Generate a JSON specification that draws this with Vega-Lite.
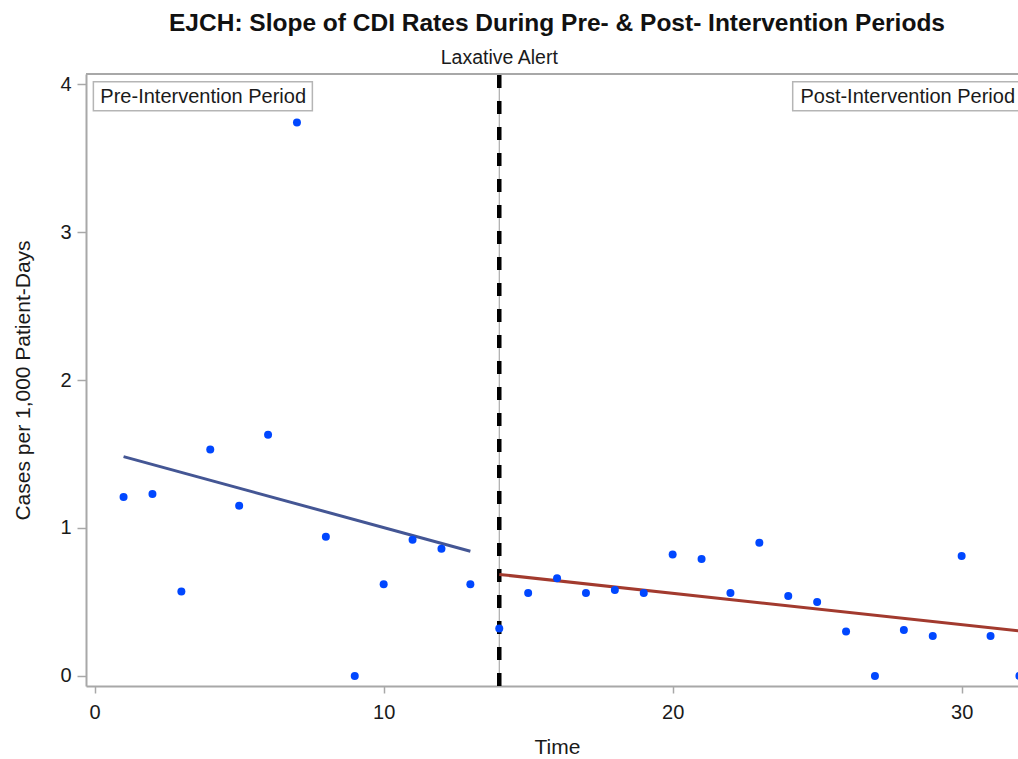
{
  "$schema": "https://vega.github.io/schema/vega-lite/v6.json",
  "autosize": {"type": "none"},
  "padding": {"left": 86, "top": 74, "right": 0, "bottom": 73},
  "width": 932,
  "height": 612,
  "background": "white",
  "config": {
    "view": {"stroke": null},
    "font": "Liberation Sans, Arial, sans-serif",
    "axis": {"grid": false, "domainColor": "#A8A8A8", "domainWidth": 2, "tickColor": "#A8A8A8", "tickWidth": 1.5, "labelColor": "#1a1a1a", "titleColor": "#1a1a1a", "labelFont": "Liberation Sans", "titleFont": "Liberation Sans", "titleFontWeight": "normal"}
  },
  "title": {"text": "EJCH: Slope of CDI Rates During Pre- & Post- Intervention Periods", "font": "Liberation Sans", "fontSize": 24.5, "fontWeight": "bold", "color": "#111", "anchor": "middle", "frame": "group", "baseline": "alphabetic", "offset": -7, "dx": 5},
  "datasets": {
    "obs": [
      {"time": 1, "rate": 1.21}, {"time": 2, "rate": 1.23}, {"time": 3, "rate": 0.57}, {"time": 4, "rate": 1.53},
      {"time": 5, "rate": 1.15}, {"time": 6, "rate": 1.63}, {"time": 7, "rate": 3.74}, {"time": 8, "rate": 0.94},
      {"time": 9, "rate": 0.0}, {"time": 10, "rate": 0.62}, {"time": 11, "rate": 0.92}, {"time": 12, "rate": 0.86},
      {"time": 13, "rate": 0.62}, {"time": 14, "rate": 0.32}, {"time": 15, "rate": 0.56}, {"time": 16, "rate": 0.66},
      {"time": 17, "rate": 0.56}, {"time": 18, "rate": 0.58}, {"time": 19, "rate": 0.56}, {"time": 20, "rate": 0.82},
      {"time": 21, "rate": 0.79}, {"time": 22, "rate": 0.56}, {"time": 23, "rate": 0.9}, {"time": 24, "rate": 0.54},
      {"time": 25, "rate": 0.5}, {"time": 26, "rate": 0.3}, {"time": 27, "rate": 0.0}, {"time": 28, "rate": 0.31},
      {"time": 29, "rate": 0.27}, {"time": 30, "rate": 0.81}, {"time": 31, "rate": 0.27}, {"time": 32, "rate": 0.0}
    ],
    "fit": [
      {"period": "Pre", "time": 1, "rate": 1.482}, {"period": "Pre", "time": 13, "rate": 0.843},
      {"period": "Post", "time": 14, "rate": 0.686}, {"period": "Post", "time": 32, "rate": 0.304}
    ],
    "alert": [{"time": 14, "label": "Laxative Alert"}],
    "one": [{}]
  },
  "layer": [
    {
      "data": {"name": "alert"},
      "mark": {"type": "rule", "color": "#9a9a9a", "strokeWidth": 1},
      "encoding": {
        "x": {"field": "time", "type": "quantitative", "scale": {"domain": [-0.3, 31.95], "nice": false, "zero": false},
          "axis": {"title": "Time", "values": [0, 10, 20, 30], "format": "d", "labelFontSize": 20, "titleFontSize": 21, "tickSize": 7, "labelPadding": 9, "titlePadding": 14, "titleX": 471, "labelFlush": false}},
        "y": {"datum": -0.068, "type": "quantitative", "scale": {"domain": [-0.068, 4.068], "nice": false, "zero": false},
          "axis": {"title": "Cases per 1,000 Patient-Days", "values": [0, 1, 2, 3, 4], "format": "d", "labelFontSize": 20, "titleFontSize": 21, "tickSize": 9, "labelPadding": 6, "titlePadding": 26}},
        "y2": {"datum": 4.068}
      }
    },
    {
      "data": {"name": "alert"},
      "mark": {"type": "rule", "color": "#000", "strokeWidth": 4.5, "strokeDash": [13, 13]},
      "encoding": {
        "x": {"field": "time", "type": "quantitative"},
        "y": {"datum": -0.068, "type": "quantitative"},
        "y2": {"datum": 4.068}
      }
    },
    {
      "data": {"name": "one"},
      "mark": {"type": "rule", "color": "#A8A8A8", "strokeWidth": 2},
      "encoding": {
        "y": {"datum": 4.068, "type": "quantitative"}
      }
    },
    {
      "data": {"name": "alert"},
      "mark": {"type": "text", "fontSize": 19.5, "color": "#1a1a1a", "baseline": "alphabetic", "align": "center", "dy": -10, "clip": false},
      "encoding": {
        "x": {"field": "time", "type": "quantitative"},
        "y": {"datum": 4.068, "type": "quantitative"},
        "text": {"field": "label"}
      }
    },
    {
      "data": {"name": "fit"},
      "transform": [{"filter": "datum.period === 'Pre'"}],
      "mark": {"type": "line", "color": "#445694", "strokeWidth": 3, "clip": true},
      "encoding": {
        "x": {"field": "time", "type": "quantitative"},
        "y": {"field": "rate", "type": "quantitative"}
      }
    },
    {
      "data": {"name": "fit"},
      "transform": [{"filter": "datum.period === 'Post'"}],
      "mark": {"type": "line", "color": "#A23A2E", "strokeWidth": 3, "clip": true},
      "encoding": {
        "x": {"field": "time", "type": "quantitative"},
        "y": {"field": "rate", "type": "quantitative"}
      }
    },
    {
      "data": {"name": "obs"},
      "mark": {"type": "point", "filled": true, "shape": "circle", "size": 64, "color": "#0047FF", "opacity": 1, "clip": true},
      "encoding": {
        "x": {"field": "time", "type": "quantitative"},
        "y": {"field": "rate", "type": "quantitative"}
      }
    },
    {
      "data": {"name": "one"},
      "mark": {"type": "rect", "fill": "white", "stroke": "#B5B5B5", "strokeWidth": 1.5, "xOffset": -1.3, "x2Offset": 217.7, "yOffset": -2.3, "y2Offset": 26.7},
      "encoding": {
        "x": {"datum": 0, "type": "quantitative"},
        "x2": {"datum": 0},
        "y": {"datum": 4, "type": "quantitative"},
        "y2": {"datum": 4}
      }
    },
    {
      "data": {"name": "one"},
      "mark": {"type": "text", "fontSize": 20, "color": "#1a1a1a", "baseline": "alphabetic", "align": "left", "dx": 5.7, "dy": 19.3},
      "encoding": {
        "x": {"datum": 0, "type": "quantitative"},
        "y": {"datum": 4, "type": "quantitative"},
        "text": {"value": "Pre-Intervention Period"}
      }
    },
    {
      "data": {"name": "one"},
      "mark": {"type": "rect", "fill": "white", "stroke": "#B5B5B5", "strokeWidth": 1.5, "xOffset": -225.3, "x2Offset": 6, "yOffset": -2.3, "y2Offset": 26.7, "clip": false},
      "encoding": {
        "x": {"datum": 31.95, "type": "quantitative"},
        "x2": {"datum": 31.95},
        "y": {"datum": 4, "type": "quantitative"},
        "y2": {"datum": 4}
      }
    },
    {
      "data": {"name": "one"},
      "mark": {"type": "text", "fontSize": 20, "color": "#1a1a1a", "baseline": "alphabetic", "align": "right", "dx": -3, "dy": 19.3},
      "encoding": {
        "x": {"datum": 31.95, "type": "quantitative"},
        "y": {"datum": 4, "type": "quantitative"},
        "text": {"value": "Post-Intervention Period"}
      }
    }
  ]
}
